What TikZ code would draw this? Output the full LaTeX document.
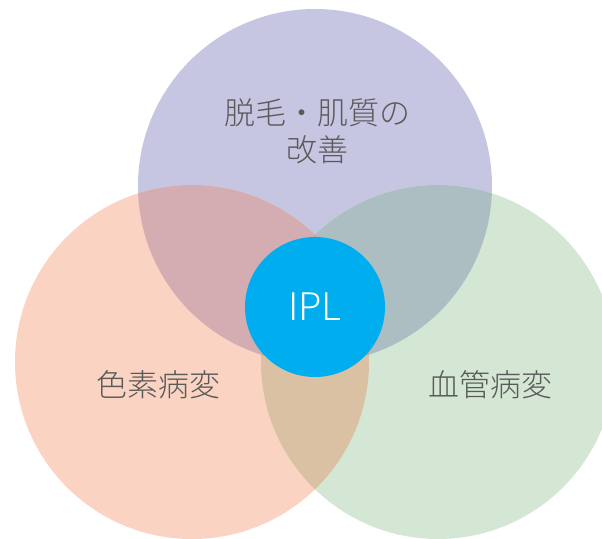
\documentclass[tikz,border=0pt]{standalone}
\usepackage{fontspec}
\setmainfont{Noto Sans CJK JP Light}
\usetikzlibrary{positioning}
\definecolor{skinpurple}{RGB}{198,198,227}
\definecolor{pigmentpeach}{RGB}{251,211,194}
\definecolor{vesselgreen}{RGB}{212,231,212}
\definecolor{mixpurplepeach}{RGB}{211,173,177}
\definecolor{mixpurplegreen}{RGB}{172,190,193}
\definecolor{mixpeachgreen}{RGB}{218,193,163}
\definecolor{mixall}{RGB}{190,170,165}
\definecolor{iplblue}{RGB}{0,174,239}
\definecolor{labelgray}{RGB}{90,90,90}

\begin{document}
\begin{tikzpicture}[x=1pt,y=-1pt,
  label/.style={text=labelgray,font=\fontsize{31pt}{37pt}\selectfont,align=center,inner sep=0pt},
  core/.style={circle,fill=iplblue,minimum size=140pt,inner sep=0pt,text=white,font=\fontsize{38pt}{40pt}\selectfont}]
  \def\R{177pt}
  \useasboundingbox (0,0) rectangle (602,538);
  \coordinate (ctop) at (315,186);
  \coordinate (cleft) at (192,362);
  \coordinate (cright) at (438,362);
  % base circles
  \fill[skinpurple] (ctop) circle (\R);
  \fill[pigmentpeach] (cleft) circle (\R);
  \fill[vesselgreen] (cright) circle (\R);
  % overlaps
  \begin{scope}
    \clip (ctop) circle (\R);
    \fill[mixpurplepeach] (cleft) circle (\R);
    \fill[mixpurplegreen] (cright) circle (\R);
  \end{scope}
  \begin{scope}
    \clip (cleft) circle (\R);
    \fill[mixpeachgreen] (cright) circle (\R);
    \clip (ctop) circle (\R);
    \fill[mixall] (cright) circle (\R);
  \end{scope}
  % labels
  \node[core] (ipl) at (315,307) {IPL};
  \node[label] (hair) at (317,131) {脱毛・肌質の\\改善};
  \node[label] (pigment) at (158,385) {色素病変};
  \node[label] (vessel) at (490,385) {血管病変};
\end{tikzpicture}
\end{document}
